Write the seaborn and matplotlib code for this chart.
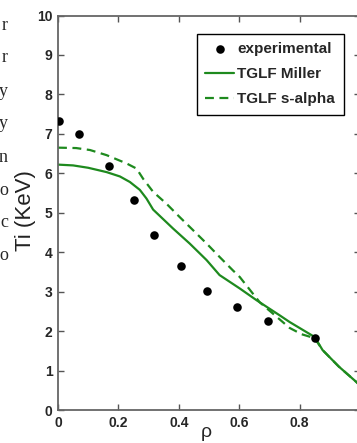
"""Ti profile: experimental points vs TGLF predictions."""

import numpy as np
import pandas as pd
import matplotlib
matplotlib.use("Agg")
import matplotlib.pyplot as plt
import seaborn as sns

# experimental points
exp_rho = [0.003, 0.069, 0.169, 0.251, 0.317, 0.407, 0.493, 0.592, 0.697, 0.850]
exp_ti = [7.32, 6.99, 6.18, 5.32, 4.43, 3.65, 3.01, 2.61, 2.25, 1.82]

# TGLF Miller (solid)
miller_rho = [0.0, 0.05, 0.10, 0.161, 0.205, 0.238, 0.271, 0.293, 0.315, 0.381, 0.436,
              0.492, 0.535, 0.602, 0.658, 0.734, 0.767, 0.850, 0.876, 0.930, 0.988, 1.0]
miller_ti = [6.22, 6.20, 6.14, 6.03, 5.92, 5.78, 5.58, 5.36, 5.08, 4.60, 4.22,
             3.80, 3.42, 3.08, 2.78, 2.40, 2.23, 1.85, 1.52, 1.10, 0.71, 0.62]

# TGLF s-alpha (dashed)
salpha_rho = [0.0, 0.06, 0.106, 0.161, 0.227, 0.260, 0.282, 0.315, 0.359, 0.403, 0.447,
              0.492, 0.535, 0.579, 0.602, 0.668, 0.767, 0.807, 0.850, 0.876, 0.930, 0.988, 1.0]
salpha_ti = [6.65, 6.64, 6.59, 6.46, 6.25, 6.12, 5.86, 5.53, 5.23, 4.89, 4.56,
             4.22, 3.88, 3.54, 3.37, 2.73, 2.08, 1.92, 1.82, 1.52, 1.10, 0.71, 0.62]

x_ticks = [0, 0.2, 0.4, 0.6, 0.8, 1]
x_ticklabels = ["0", "0.2", "0.4", "0.6", "0.8", ""]
y_ticks = list(range(0, 11))

# clipped letters of the neighbouring page column
margin_chars = ["r", "r", "y", "y", "n", "o", "c", "o"]

green = "#1e8a1e"
sns.set_style("ticks")
plt.rcParams["font.family"] = ["Liberation Sans", "DejaVu Sans"]

fig = plt.figure(figsize=(3.57, 4.43), dpi=100)
ax = fig.add_axes([58 / 357, 33 / 443, 302 / 357, 394.5 / 443])

exp_df = pd.DataFrame({"rho": exp_rho, "ti": exp_ti})
mil_df = pd.DataFrame({"rho": miller_rho, "ti": miller_ti})
sal_df = pd.DataFrame({"rho": salpha_rho, "ti": salpha_ti})

sns.scatterplot(data=exp_df, x="rho", y="ti", ax=ax, color="black", s=38,
                edgecolor="black", linewidth=0, label="experimental", zorder=3)
sns.lineplot(data=mil_df, x="rho", y="ti", ax=ax, color=green, lw=1.6,
             label="TGLF Miller", sort=False)
sns.lineplot(data=sal_df, x="rho", y="ti", ax=ax, color=green, lw=1.6,
             linestyle=(0, (4, 2.5)), label="TGLF s-alpha", sort=False)

ax.set_xlim(0, 1)
ax.set_ylim(0, 10)
ax.set_xticks(x_ticks)
ax.set_xticklabels(x_ticklabels)
ax.set_yticks(y_ticks)
ax.tick_params(direction="in", length=4, width=1, color="#555555",
               top=True, right=True, labelsize=10, pad=4)
for lab in ax.get_xticklabels() + ax.get_yticklabels():
    lab.set_fontweight("bold")
for sp in ax.spines.values():
    sp.set_visible(True)
    sp.set_color("#666666")
    sp.set_linewidth(1.3)

ax.set_ylabel("Ti (KeV)", fontsize=16, color="#222222")
ax.yaxis.set_label_coords(-0.072, 0.505)
ax.set_xlabel("ρ", fontsize=14)
ax.xaxis.set_label_coords(0.49, -0.036)

leg = ax.legend(loc="upper left", bbox_to_anchor=(0.46, 0.953), frameon=True,
                fancybox=False, edgecolor="black", framealpha=1,
                prop={"weight": "bold", "size": 11}, handlelength=1.9,
                handletextpad=0.2, borderpad=0.55, labelspacing=0.72,
                borderaxespad=0)
leg.get_frame().set_linewidth(1.0)

for i, ch in enumerate(margin_chars):
    fig.text(8 / 357, 1 - (25 + 33 * i) / 443, ch, ha="right", va="center",
             fontsize=13, family="Liberation Serif")

fig.savefig("out.png", dpi=100)
